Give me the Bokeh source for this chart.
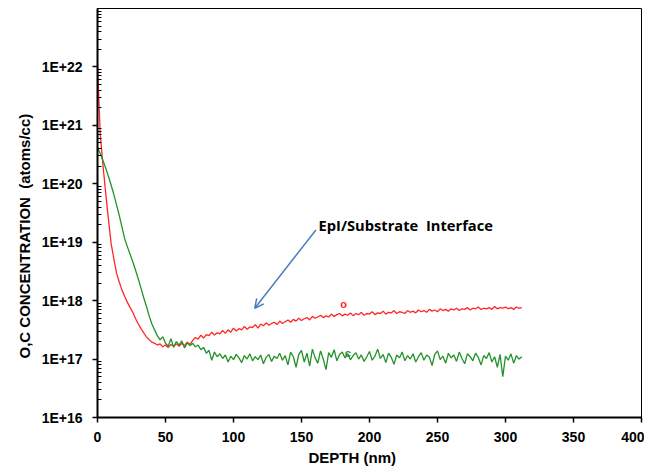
import math
from bokeh.plotting import figure
from bokeh.models import (FixedTicker, CustomJSTickFormatter, Label, Arrow,
                          OpenHead, ColumnDataSource, Title)
from bokeh.embed import file_html
from bokeh.resources import INLINE

# ---- data ----
depth_nm = list(range(0, 313, 2))

# log10 of oxygen concentration (atoms/cc)
o_log10 = [
    22.05, 20.85, 20.32, 19.85, 19.40, 18.98, 18.72, 18.47, 18.32, 18.18,
    18.07, 17.97, 17.88, 17.80, 17.69, 17.60, 17.52, 17.45, 17.38, 17.33,
    17.29, 17.27, 17.24, 17.26, 17.21, 17.24, 17.20, 17.25, 17.22, 17.26,
    17.22, 17.27, 17.23, 17.29, 17.25, 17.32, 17.37, 17.34, 17.41, 17.36,
    17.42, 17.40, 17.46, 17.41, 17.45, 17.43, 17.49, 17.44, 17.50, 17.46,
    17.53, 17.48, 17.52, 17.50, 17.56, 17.51, 17.55, 17.54, 17.59, 17.53,
    17.60, 17.57, 17.62, 17.58, 17.61, 17.63, 17.59, 17.65, 17.61, 17.64,
    17.67, 17.63, 17.68, 17.65, 17.70, 17.66, 17.69, 17.71, 17.67, 17.73,
    17.70, 17.72, 17.75, 17.71, 17.74, 17.72, 17.77, 17.73, 17.76, 17.78,
    17.74, 17.77, 17.75, 17.79, 17.74, 17.78, 17.76, 17.80, 17.75, 17.78,
    17.77, 17.81, 17.76, 17.79, 17.78, 17.82, 17.77, 17.80, 17.79, 17.83,
    17.78, 17.81, 17.80, 17.78, 17.83, 17.80, 17.82, 17.79, 17.84, 17.81,
    17.83, 17.80, 17.85, 17.82, 17.84, 17.81, 17.86, 17.83, 17.85, 17.82,
    17.86, 17.84, 17.87, 17.83, 17.86, 17.85, 17.88, 17.84, 17.87, 17.86,
    17.89, 17.85, 17.87, 17.86, 17.88, 17.85, 17.90, 17.86, 17.88, 17.87,
    17.89, 17.86, 17.88, 17.85, 17.89, 17.87, 17.88,
]

# log10 of carbon concentration (atoms/cc)
c_log10 = [
    20.62, 20.52, 20.40, 20.27, 20.13, 19.98, 19.82, 19.64, 19.46, 19.26,
    19.06, 18.92, 18.79, 18.66, 18.52, 18.37, 18.21, 18.05, 17.90, 17.74,
    17.60, 17.50, 17.40, 17.33, 17.38, 17.27, 17.22, 17.35, 17.20, 17.30,
    17.24, 17.31, 17.19, 17.28, 17.23, 17.27, 17.21, 17.24, 17.16, 17.20,
    17.10, 17.15, 16.98, 17.12, 17.04, 17.09, 17.01, 17.07, 16.95, 17.05,
    16.99, 17.08, 17.02, 16.94, 17.06, 17.00, 17.09, 16.97, 17.04, 16.99,
    17.07, 16.92, 17.03, 17.08, 16.96, 17.05, 17.01, 17.10, 16.98, 17.06,
    16.90, 17.12, 17.04, 16.86, 17.08, 17.15, 16.95, 17.10, 16.88, 17.17,
    17.02, 16.93, 17.14, 17.00, 16.82, 17.11, 17.03, 17.16, 16.97, 17.08,
    17.12, 17.02, 17.09, 16.99, 17.06, 17.11, 17.00, 17.07, 16.96, 17.04,
    17.13, 16.98, 17.05, 17.17, 17.01, 17.08, 16.94, 17.10, 17.03, 16.91,
    17.07, 17.02, 17.12, 16.97, 17.06, 17.00, 17.09, 16.95, 17.04, 17.11,
    16.98, 17.07, 17.03, 16.89, 17.08, 17.14, 16.99, 17.05, 16.93, 17.10,
    17.02, 17.07, 16.96, 17.12, 17.01, 16.92, 17.09, 17.04, 16.97, 17.10,
    17.03, 16.90, 17.06, 17.01, 17.11, 16.95, 17.04, 16.86, 17.08, 16.70,
    17.05, 16.98, 17.09, 16.93, 17.06, 17.00, 17.04,
]

x_ticks = [0, 50, 100, 150, 200, 250, 300, 350, 400]
y_tick_labels = ["1E+16", "1E+17", "1E+18", "1E+19", "1E+20", "1E+21", "1E+22", ""]
y_decades = [16, 17, 18, 19, 20, 21, 22, 23]

o_conc = [10 ** v for v in o_log10]
c_conc = [10 ** v for v in c_log10]
src = ColumnDataSource(dict(depth=depth_nm, o=o_conc, c=c_conc))

FONT = "Liberation Sans"

p = figure(frame_width=544, frame_height=409, x_range=(0, 400), y_range=(1e16, 1e23),
           y_axis_type="log", output_backend="svg", toolbar_location=None,
           min_border_left=97, min_border_right=3, min_border_top=8,
           min_border_bottom=40)
p.background_fill_color = "white"
p.border_fill_color = "white"
p.outline_line_color = "black"
p.outline_line_width = 1
p.xgrid.visible = False
p.ygrid.visible = False

p.line("depth", "o", source=src, line_color="#ff2626", line_width=1.3)
p.line("depth", "c", source=src, line_color="#23922a", line_width=1.3)

# axes
major_y = [10.0 ** d for d in y_decades]
minor_y = [k * 10.0 ** d for d in y_decades[:-1] for k in range(2, 10)]
p.yaxis.ticker = FixedTicker(ticks=major_y, minor_ticks=minor_y)
p.yaxis.formatter = CustomJSTickFormatter(args=dict(labels=y_tick_labels, decs=y_decades), code="""
    const e = Math.round(Math.log10(tick));
    const i = decs.indexOf(e);
    return i >= 0 ? labels[i] : "";
""")
p.xaxis.ticker = FixedTicker(ticks=x_ticks, minor_ticks=[])

for ax in (p.xaxis, p.yaxis):
    ax.axis_line_color = "black"
    ax.axis_line_width = 2
    ax.major_tick_line_color = "black"
    ax.major_tick_line_width = 1.5
    ax.major_tick_out = 5
    ax.major_tick_in = 0
    ax.major_label_text_font = FONT
    ax.major_label_text_font_style = "bold"
    ax.major_label_text_font_size = "14px"
    ax.major_label_text_color = "black"
p.xaxis.major_label_standoff = 9
p.yaxis.major_label_standoff = 10
p.yaxis.minor_tick_line_color = "black"
p.yaxis.minor_tick_in = 4
p.yaxis.minor_tick_out = 0
p.xaxis.minor_tick_line_color = None

# axis titles (as side titles so they can be shifted like the reference)
p.add_layout(Title(text="DEPTH (nm)", align="left", offset=211, standoff=5,
                   text_font=FONT, text_font_style="bold", text_font_size="15px",
                   text_color="black"), "below")
p.add_layout(Title(text="O,C CONCENTRATION\u00a0 (atoms/cc)", align="left", offset=59,
                   standoff=12, text_font=FONT, text_font_style="bold",
                   text_font_size="15px", text_color="black"), "left")

# annotations
p.add_layout(Label(x=162.5, y=10 ** 19.29, text="EpI/Substrate\u00a0 Interface",
                   text_font="Open Sans", text_font_style="bold",
                   text_font_size="14.7px", text_align="left",
                   text_baseline="middle", text_color="black"))
p.add_layout(Arrow(x_start=160.6, y_start=10 ** 19.21, x_end=115.6, y_end=10 ** 17.87,
                   line_color="#4a7ebb", line_width=1.5,
                   end=OpenHead(size=9, line_color="#4a7ebb", line_width=1.5)))
p.add_layout(Label(x=181, y=10 ** 17.94, text="o", text_font=FONT,
                   text_font_style="bold", text_font_size="11px",
                   text_align="center", text_baseline="middle", text_color="#ff2626"))
p.add_layout(Label(x=184, y=10 ** 17.11, text="c", text_font=FONT,
                   text_font_style="bold", text_font_size="11px",
                   text_align="center", text_baseline="middle", text_color="#23922a"))

open("out.html", "w").write(file_html(p, INLINE))
